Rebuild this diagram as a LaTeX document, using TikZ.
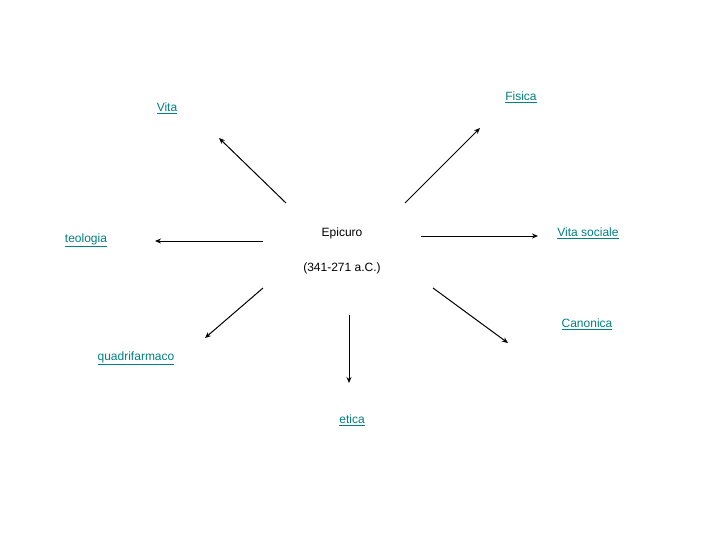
\documentclass[tikz,border=0pt]{standalone}
\usepackage{fontspec}
\usetikzlibrary{arrows.meta}
\setmainfont{Liberation Sans}
\definecolor{lnk}{RGB}{0,128,128}
\begin{document}
\begin{tikzpicture}[x=1pt,y=-1pt,
  lab/.style={font=\fontsize{12}{14}\selectfont,text=lnk,inner sep=0pt},
  plain/.style={font=\fontsize{12}{14}\selectfont,inner sep=0pt},
  arr/.style={-{Stealth[length=6pt,width=5pt]},line width=1pt}]
\useasboundingbox (0,0) rectangle (720,540);
\node[lab] (vita) at (167,108) {\underline{Vita}};
\node[lab] (fisica) at (521,97) {\underline{Fisica}};
\node[lab] (teo) at (86,240) {\underline{teologia}};
\node[plain] (epi) at (342,233) {Epicuro};
\node[plain] (date) at (342,268) {(341-271 a.C.)};
\node[lab] (vs) at (588,233) {\underline{Vita sociale}};
\node[lab] (can) at (587,324) {\underline{Canonica}};
\node[lab] (quad) at (136,358) {\underline{quadrifarmaco}};
\node[lab] (etica) at (352,420) {\underline{etica}};
\coordinate (a1) at (286,203); \coordinate (b1) at (219,138);
\coordinate (a2) at (405,203); \coordinate (b2) at (480,128);
\coordinate (a3) at (263,241); \coordinate (b3) at (155,241);
\coordinate (a4) at (421,236); \coordinate (b4) at (538,236);
\coordinate (a5) at (263,288); \coordinate (b5) at (205,338);
\coordinate (a6) at (349,315); \coordinate (b6) at (349,383);
\coordinate (a7) at (433,288); \coordinate (b7) at (508,343);
\foreach \i in {1,...,7}{\draw[arr] (a\i) -- (b\i);}
\end{tikzpicture}
\end{document}
